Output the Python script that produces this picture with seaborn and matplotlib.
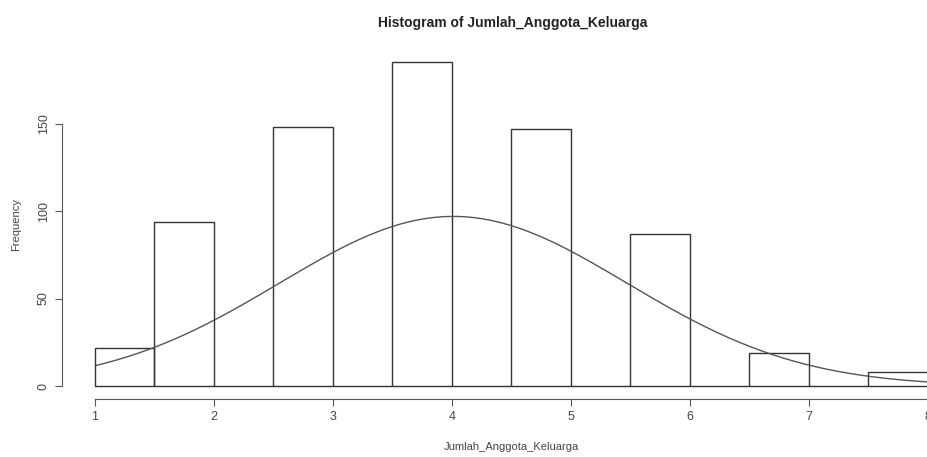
# === IMPORTS ===
import numpy as np
import pandas as pd
import seaborn as sns
import matplotlib.pyplot as plt

# === SETTINGS ===
sns.set_style("white")
plt.rcParams["font.family"] = ["Liberation Sans", "DejaVu Sans"]

# === DATA ===
# family size (Jumlah_Anggota_Keluarga) and how many households have it
family_size = [1, 2, 3, 4, 5, 6, 7, 8]
household_count = [22, 94, 148, 185, 147, 87, 19, 8]

# R-style breaks (bins of width 0.5, right-closed)
bin_width = 0.5

df = pd.DataFrame({"size": family_size, "count": household_count})
# R's hist puts k into (k-0.5, k]; place each value at that bin's centre
df["bin_mid"] = np.where(df["size"] == 1, 1.25, df["size"] - 0.25)

# fitted normal curve, scaled to frequency like curve(dnorm(x)*n*binwidth)
n = df["count"].sum()
mean = np.average(df["size"], weights=df["count"])
sd = np.sqrt(np.average((df["size"] - mean) ** 2, weights=df["count"]))
curve = pd.DataFrame({"x": np.linspace(1, 8, 300)})
curve["y"] = (np.exp(-0.5 * ((curve["x"] - mean) / sd) ** 2)
              / (sd * np.sqrt(2 * np.pi)) * n * bin_width)

# === PLOT ===
fig = plt.figure(figsize=(9.28, 4.57), dpi=100)
ax = fig.add_axes([0.0665, 0.127, 0.969, 0.765])

sns.histplot(data=df, x="bin_mid", weights="count",
             binwidth=bin_width, binrange=(1, 8),
             fill=False, color="#333333", linewidth=1.0, ax=ax)
sns.lineplot(data=curve, x="x", y="y", color="#555555", linewidth=1.0, ax=ax)

ax.set_xlim(1 - 0.28, 8 + 0.28)
ax.set_ylim(-7.4, 192.4)
ax.set_xticks(family_size)
ax.set_yticks([0, 50, 100, 150])
ax.tick_params(axis="both", direction="out", length=5, width=0.8,
               color="#555555", labelcolor="#444444", labelsize=9,
               bottom=True, left=True)
ax.tick_params(axis="y", labelrotation=90)
for lbl in ax.get_yticklabels():
    lbl.set_verticalalignment("center")

sns.despine(ax=ax)
ax.spines["left"].set_bounds(0, 150)
ax.spines["bottom"].set_bounds(1, 8)
for side in ["left", "bottom"]:
    ax.spines[side].set_color("#555555")
    ax.spines[side].set_linewidth(0.8)

ax.set_xlabel("Jumlah_Anggota_Keluarga", fontsize=8, color="#444444", labelpad=14)
ax.set_ylabel("Frequency", fontsize=8, color="#444444", labelpad=12)
fig.text(0.552, 0.95, "Histogram of Jumlah_Anggota_Keluarga",
         ha="center", va="center", fontsize=10, fontweight="bold", color="#222222")

plt.savefig("out.png", dpi=100)
